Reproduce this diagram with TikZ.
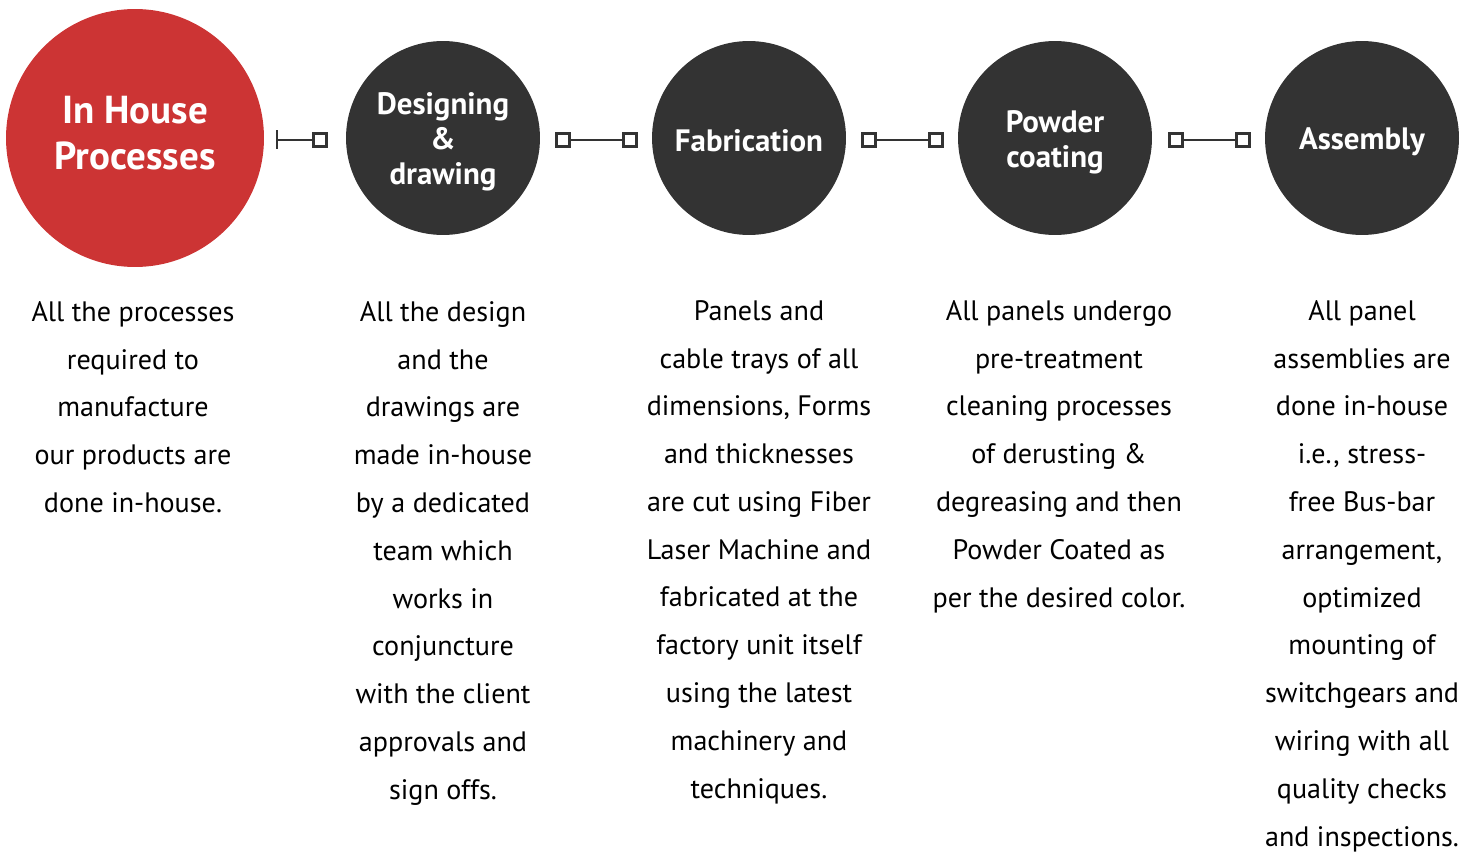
\documentclass[tikz,border=0pt]{standalone}
\usepackage{fontspec}
\setmainfont{PT Sans}
\usetikzlibrary{positioning}
\definecolor{procred}{HTML}{CC3434}
\definecolor{procdark}{HTML}{333333}
\tikzstyle{every stage}=[circle, fill=procdark, minimum size=3.88cm, inner sep=0pt]
\tikzstyle{stage label}=[text=white, align=center, inner sep=0pt, font=\bfseries\fontsize{17.6}{19.8}\selectfont]
\tikzstyle{stage text}=[anchor=north, align=center, text=black, inner sep=0pt, font=\fontsize{16}{27.2}\selectfont]
\tikzstyle{link}=[draw=procdark, line width=1.7pt]
\tikzstyle{link box}=[draw=procdark, line width=1.7pt, fill=white, minimum size=0.26cm, inner sep=0pt]

\begin{document}
\begin{tikzpicture}[x=0.02cm, y=-0.02cm]
\useasboundingbox (0,0) rectangle (1473,852);

% circles
\node[every stage, fill=procred, minimum size=5.16cm] (p0) at (135,138) {};
\node[every stage] (p1) at (443,138) {};
\node[every stage] (p2) at (749,138) {};
\node[every stage] (p3) at (1055,138) {};
\node[every stage] (p4) at (1362,138) {};
\node[stage label, font=\bfseries\fontsize{22.2}{26}\selectfont] (l0) at ([yshift=0.1cm]p0) {In House\\Processes};
\node[stage label] (l1) at ([yshift=-0.07cm]p1) {Designing\\\&\\drawing};
\node[stage label] (l2) at ([yshift=-0.06cm]p2) {Fabrication};
\node[stage label] (l3) at ([yshift=-0.08cm]p3) {Powder\\coating};
\node[stage label] (l4) at ([yshift=-0.07cm]p4) {Assembly};

% links
\coordinate (t0) at (277,140);
\coordinate (t0u) at (277,130);
\coordinate (t0d) at (277,149);
\node[link box] (b0) at (320,140) {};
\draw[link] (t0u) -- (t0d);
\draw[link] (t0) -- (b0.west);
\node[link box] (a1) at (563,140) {};
\node[link box] (b1) at (630,140) {};
\draw[link] (a1) -- (b1);
\node[link box] (a2) at (869,140) {};
\node[link box] (b2) at (936,140) {};
\draw[link] (a2) -- (b2);
\node[link box] (a3) at (1176,140) {};
\node[link box] (b3) at (1243,140) {};
\draw[link] (a3) -- (b3);

% texts
\node[stage text] (d0) at (133,301) {All the processes\\required to\\manufacture\\our products are\\done in-house.};
\node[stage text] (d1) at (443,301) {All the design\\and the\\drawings are\\made in-house\\by a dedicated\\team which\\works in\\conjuncture\\with the client\\approvals and\\sign offs.};
\node[stage text] (d2) at (759,300) {Panels and\\cable trays of all\\dimensions, Forms\\and thicknesses\\are cut using Fiber\\Laser Machine and\\fabricated at the\\factory unit itself\\using the latest\\machinery and\\techniques.};
\node[stage text] (d3) at (1059,300) {All panels undergo\\pre-treatment\\cleaning processes\\of derusting \&\\degreasing and then\\Powder Coated as\\per the desired color.};
\node[stage text] (d4) at (1362,300) {All panel\\assemblies are\\done in-house\\i.e., stress-\\free Bus-bar\\arrangement,\\optimized\\mounting of\\switchgears and\\wiring with all\\quality checks\\and inspections.};
\end{tikzpicture}
\end{document}
